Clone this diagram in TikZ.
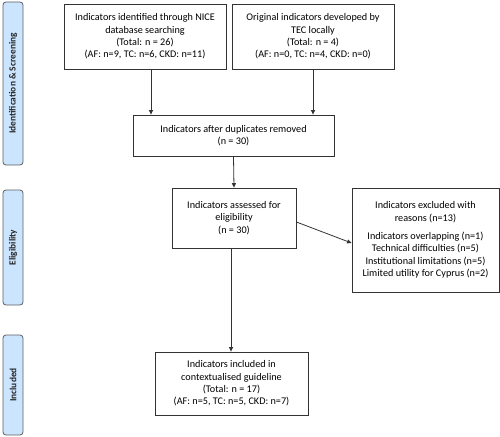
\documentclass[tikz,border=0pt]{standalone}
\usepackage{fontspec}
\setmainfont{Carlito}
\usetikzlibrary{arrows.meta}
\definecolor{stagefill}{HTML}{CCE5FF}
\definecolor{stageline}{HTML}{5E5E5E}
\definecolor{boxline}{HTML}{333333}

\tikzset{
	flowbox/.style={draw=boxline, line width=0.8pt, align=center, font=\fontsize{10.2}{12.3}\selectfont, inner sep=2pt},
	stagebox/.style={draw=stageline, line width=0.8pt, fill=stagefill, rounded corners=3pt, minimum width=20pt, inner sep=0pt},
	stagetext/.style={rotate=90, font=\fontsize{9.4}{11}\selectfont\bfseries, text=black!85}
}

\begin{document}
\begin{tikzpicture}[x=1pt, y=-1pt, >={Triangle[length=4.5pt, width=4pt]}]
	\useasboundingbox (0, 0) rectangle (500, 436);

	% stages on the left
	\node[stagebox, minimum height=163pt] (idscr) at (13, 83.5) {};
	\node[stagetext] at (idscr) {Identification \& Screening};
	\node[stagebox, minimum height=115pt] (elig) at (13, 247.5) {};
	\node[stagetext] at (elig) {Eligibility};
	\node[stagebox, minimum height=100pt] (incl) at (13, 385) {};
	\node[stagetext] at (incl) {Included};

	% flow boxes
	\node[flowbox, minimum width=162pt, minimum height=65pt] (nice) at (145, 36.5) {Indicators identified through NICE\\database searching\\(Total: n = 26)\\(AF: n=9, TC: n=6, CKD: n=11)};
	\node[flowbox, minimum width=162pt, minimum height=65pt] (tec) at (313, 36.5) {Original indicators developed by\\TEC locally\\(Total: n = 4)\\(AF: n=0, TC: n=4, CKD: n=0)};
	\node[flowbox, minimum width=201pt, minimum height=41pt] (dup) at (233.5, 135.5) {Indicators after duplicates removed\\(n = 30)};
	\node[flowbox, minimum width=124pt, minimum height=60pt] (assess) at (234, 218) {Indicators assessed for\\eligibility\\(n = 30)};
	\node[flowbox, minimum width=147pt, minimum height=104pt] (excl) at (425.5, 240) {Indicators excluded with\\reasons (n=13)\\[6pt]Indicators overlapping (n=1)\\Technical difficulties (n=5)\\Institutional limitations (n=5)\\Limited utility for Cyprus (n=2)};
	\node[flowbox, minimum width=153pt, minimum height=63pt] (guide) at (231.5, 383.5) {Indicators included in\\contextualised guideline\\(Total: n = 17)\\(AF: n=5, TC: n=5, CKD: n=7)};

	% connectors
	\draw[boxline, line width=0.8pt, ->] ([xshift=6pt]nice.south) -- ([xshift=6pt]nice.south |- dup.north);
	\draw[boxline, line width=0.8pt, ->] (tec.south) -- (tec.south |- dup.north);
	\draw[boxline, line width=0.8pt, ->] (dup.south) -- (assess.north);
	\draw[boxline, line width=0.8pt, ->] ([xshift=-3pt]assess.south) -- ([xshift=-3pt]assess.south |- guide.north);
	\draw[boxline, line width=0.8pt, ->] ([yshift=-4pt]assess.east) -- ([yshift=-3pt]excl.west);
\end{tikzpicture}
\end{document}
